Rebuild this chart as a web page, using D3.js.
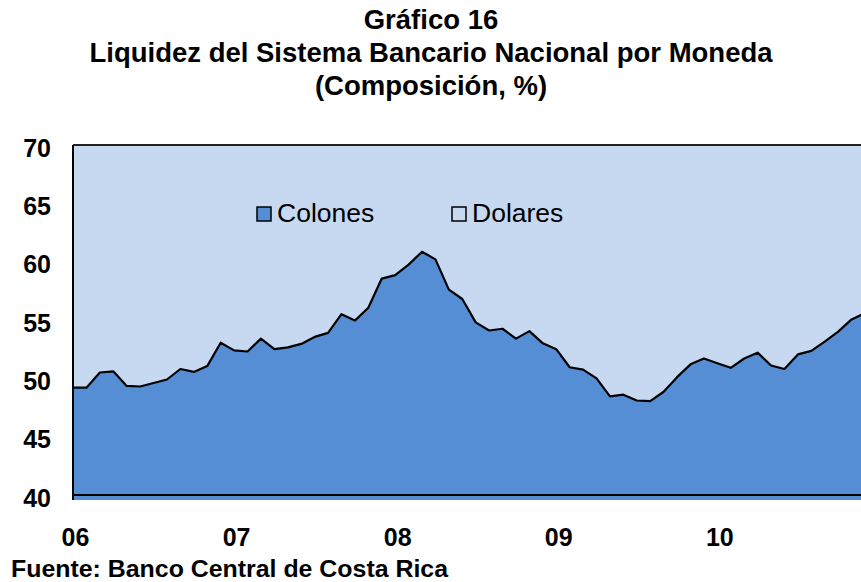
<!DOCTYPE html>
<html>
<head>
<meta charset="utf-8">
<script src="https://cdn.jsdelivr.net/npm/d3@7"></script>
<style>
  body { margin: 0; background: #fff; }
  svg { display: block; font-family: "Liberation Sans", Arial, sans-serif; }
</style>
</head>
<body>
<svg id="chart" width="861" height="582"></svg>
<script>
"use strict";

// Composición mensual, ene-06 a dic-10
const colones = [
  49.2, 49.2, 50.5, 50.6, 49.35, 49.3, 49.6, 49.9, 50.8, 50.55, 51.05, 53.05,
  52.4, 52.3, 53.4, 52.5, 52.65, 52.95, 53.55, 53.9, 55.5, 54.95, 56.05, 58.55,
  58.85, 59.75, 60.85, 60.2, 57.6, 56.8, 54.8, 54.1, 54.25, 53.4, 54.05, 53.0,
  52.5, 50.95, 50.75, 50.0, 48.45, 48.6, 48.1, 48.05, 48.85, 50.1, 51.2, 51.7,
  51.3, 50.9, 51.7, 52.2, 51.1, 50.8, 52.05, 52.35, 53.15, 54.0, 55.05, 55.6
];
const dolares = colones.map((c) => 100 - c);
const seriesNames = ["Colones", "Dolares"];
const yearTicks = [0, 12, 24, 36, 48];
const yearLabels = ["06", "07", "08", "09", "10"];
const yTicks = [40, 45, 50, 55, 60, 65, 70];
const titleLines = [
  "Gráfico 16",
  "Liquidez del Sistema Bancario Nacional por Moneda",
  "(Composición, %)"
];
const source = "Fuente: Banco Central de Costa Rica";

const svg = d3.select("#chart");
const pLeft = 73, pRight = 865, pTop = 145, pBottom = 495;
const colColones = "#558ed5";
const colDolares = "#c6d9f1";

const x = d3.scaleLinear().domain([0, colones.length - 1]).range([pLeft, pRight]);
const y = d3.scaleLinear().domain([40, 70]).range([pBottom, pTop]);

const rows = colones.map((c, i) => ({ i, Colones: c, Dolares: dolares[i] }));
const stacked = d3.stack().keys(seriesNames)(rows);

// titulo
svg.append("g")
  .selectAll("text")
  .data(titleLines)
  .enter()
  .append("text")
  .attr("x", 431)
  .attr("y", (d, i) => 29 + i * 33)
  .attr("text-anchor", "middle")
  .attr("font-weight", "bold")
  .attr("font-size", 27.5)
  .text((d) => d);

svg.append("defs").append("clipPath")
  .attr("id", "plot")
  .append("rect")
  .attr("x", pLeft).attr("y", pTop)
  .attr("width", pRight - pLeft).attr("height", pBottom - pTop + 5);

// fondo del area
svg.append("rect")
  .attr("x", pLeft).attr("y", pTop)
  .attr("width", pRight - pLeft).attr("height", pBottom - pTop + 5)
  .attr("fill", colDolares);

const area = d3.area()
  .x((d) => x(d.data.i))
  .y0((d) => y(d[0]))
  .y1((d) => y(d[1]));

const g = svg.append("g").attr("clip-path", "url(#plot)");
g.selectAll("path.layer")
  .data(stacked)
  .enter()
  .append("path")
  .attr("class", "layer")
  .attr("d", area)
  .attr("fill", (d, i) => (i === 0 ? colColones : colDolares));

g.append("path")
  .datum(colones)
  .attr("d", d3.line().x((d, i) => x(i)).y((d) => y(d)))
  .attr("fill", "none")
  .attr("stroke", "#000")
  .attr("stroke-width", 2.2)
  .attr("stroke-linejoin", "round");

// bordes
svg.append("line")
  .attr("x1", pLeft).attr("x2", 861).attr("y1", pTop).attr("y2", pTop)
  .attr("stroke", "#222").attr("stroke-width", 2);

// ejes
const yAxis = svg.append("g")
  .attr("transform", `translate(${pLeft},0)`)
  .call(d3.axisLeft(y).tickValues(yTicks).tickSize(0).tickPadding(22));
yAxis.select(".domain").attr("stroke", "#000").attr("stroke-width", 2)
  .attr("d", `M0,${pTop}V${pBottom + 5}`);
yAxis.selectAll("text")
  .attr("font-family", "'Liberation Sans', Arial, sans-serif")
  .attr("font-size", 25).attr("font-weight", "bold").attr("fill", "#000")
  .attr("dy", "0.45em");

const xAxis = svg.append("g")
  .attr("transform", `translate(0,${pBottom})`)
  .call(d3.axisBottom(x).tickValues(yearTicks)
    .tickFormat((d, i) => yearLabels[i]).tickSize(0).tickPadding(33));
xAxis.select(".domain").attr("stroke", "#000").attr("stroke-width", 2)
  .attr("d", `M${pLeft},0H861`);
xAxis.selectAll("text")
  .attr("font-family", "'Liberation Sans', Arial, sans-serif")
  .attr("font-size", 25).attr("font-weight", "bold").attr("fill", "#000")
  .attr("dx", 2);

// leyenda
const legend = svg.append("g");
const legendX = [257, 452];
seriesNames.forEach((name, i) => {
  legend.append("rect")
    .attr("x", legendX[i]).attr("y", 207)
    .attr("width", 14).attr("height", 14)
    .attr("fill", i === 0 ? colColones : colDolares)
    .attr("stroke", "#000").attr("stroke-width", 1.5);
  legend.append("text")
    .attr("x", legendX[i] + 20).attr("y", 222)
    .attr("font-size", 26.5)
    .text(name);
});

svg.append("text")
  .attr("x", 11).attr("y", 577)
  .attr("font-size", 23).attr("font-weight", "bold")
  .attr("textLength", 437).attr("lengthAdjust", "spacingAndGlyphs")
  .text(source);
</script>
</body>
</html>
